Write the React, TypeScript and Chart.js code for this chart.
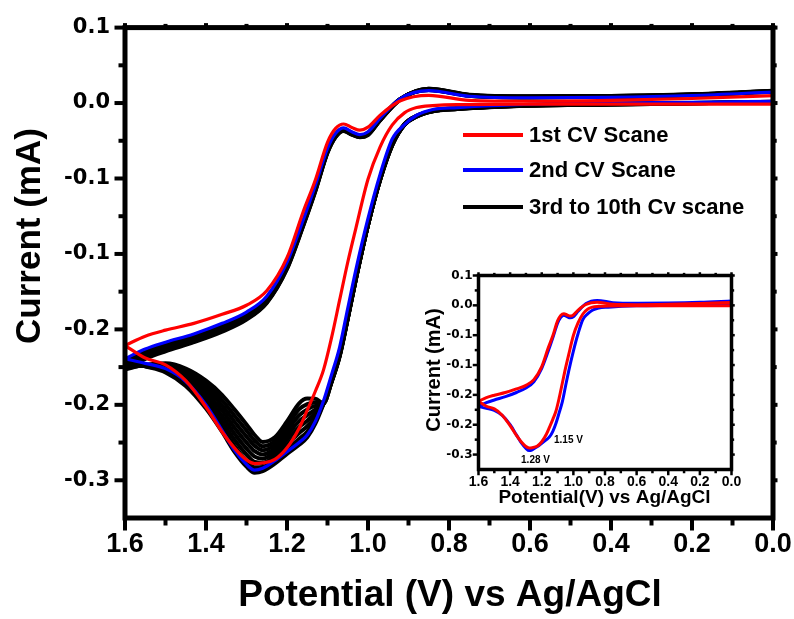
import React, { useEffect, useRef } from "react";
import { Chart, registerables } from "chart.js";

Chart.register(...registerables);

// ---------- data ----------
// potential grid (V) for the forward branch (0.0 -> 1.6 V)
const upPotential = [0, 0.2, 0.4, 0.6, 0.75, 0.85, 0.92, 0.97, 1.0, 1.02, 1.04, 1.06, 1.08, 1.1, 1.13, 1.16, 1.2, 1.25, 1.3, 1.36, 1.43, 1.5, 1.55, 1.6];
// potential grid (V) for the reverse branch (1.6 -> 0.0 V)
const downPotential = [1.6, 1.55, 1.5, 1.45, 1.4, 1.36, 1.33, 1.3, 1.28, 1.26, 1.23, 1.2, 1.17, 1.15, 1.13, 1.11, 1.09, 1.07, 1.05, 1.03, 1.0, 0.97, 0.94, 0.91, 0.88, 0.84, 0.78, 0.6, 0.4, 0.2, 0.0];

// currents (mA)
const scan1Up = [0.0049, 0.0030, 0.0018, 0.0012, 0.0018, 0.0051, 0.0015, -0.0080, -0.0160, -0.0180, -0.0162, -0.0139, -0.0168, -0.0260, -0.0510, -0.0720, -0.1025, -0.1244, -0.1340, -0.1400, -0.1460, -0.1505, -0.1545, -0.1607];
const scan1Down = [-0.1607, -0.1690, -0.1735, -0.1840, -0.2015, -0.2180, -0.2285, -0.2365, -0.2389, -0.2385, -0.2362, -0.2285, -0.2155, -0.2035, -0.1910, -0.1770, -0.1555, -0.1305, -0.1055, -0.0830, -0.0505, -0.0290, -0.0145, -0.0065, -0.0030, -0.0017, -0.0010, -0.0008, -0.0007, -0.0007, -0.0007];

const scan2Up = [0.0073, 0.0050, 0.0038, 0.0035, 0.0045, 0.0082, 0.0030, -0.0100, -0.0190, -0.0209, -0.0190, -0.0165, -0.0200, -0.0300, -0.0545, -0.0775, -0.1055, -0.1280, -0.1385, -0.1460, -0.1530, -0.1585, -0.1630, -0.1695];
const scan2Down = [-0.1695, -0.1725, -0.1760, -0.1845, -0.2000, -0.2170, -0.2300, -0.2395, -0.2433, -0.2420, -0.2370, -0.2310, -0.2250, -0.2200, -0.2110, -0.1975, -0.1800, -0.1617, -0.1360, -0.1105, -0.0765, -0.0471, -0.0237, -0.0143, -0.0081, -0.0043, -0.0030, -0.0008, 0.0000, 0.0005, 0.0011];

// scans 3 .. 10
const scans3to10Up = [
  [0.0075, 0.0052, 0.0040, 0.0037, 0.0048, 0.0086, 0.0028, -0.0105, -0.0198, -0.0216, -0.0198, -0.0172, -0.0208, -0.0310, -0.0558, -0.0790, -0.1070, -0.1295, -0.1400, -0.1475, -0.1545, -0.1600, -0.1650, -0.1710],
  [0.0076, 0.0053, 0.0041, 0.0038, 0.0049, 0.0087, 0.0028, -0.0106, -0.0200, -0.0218, -0.0200, -0.0174, -0.0210, -0.0313, -0.0562, -0.0794, -0.1074, -0.1299, -0.1405, -0.1481, -0.1551, -0.1606, -0.1656, -0.1718],
  [0.0077, 0.0054, 0.0042, 0.0039, 0.0050, 0.0088, 0.0027, -0.0108, -0.0202, -0.0219, -0.0201, -0.0176, -0.0213, -0.0316, -0.0566, -0.0797, -0.1079, -0.1304, -0.1410, -0.1486, -0.1556, -0.1613, -0.1663, -0.1726],
  [0.0078, 0.0055, 0.0043, 0.0040, 0.0051, 0.0090, 0.0027, -0.0109, -0.0204, -0.0221, -0.0203, -0.0178, -0.0215, -0.0319, -0.0570, -0.0801, -0.1083, -0.1308, -0.1415, -0.1492, -0.1562, -0.1619, -0.1669, -0.1734],
  [0.0078, 0.0055, 0.0044, 0.0041, 0.0052, 0.0091, 0.0026, -0.0110, -0.0206, -0.0222, -0.0205, -0.0179, -0.0218, -0.0321, -0.0573, -0.0804, -0.1087, -0.1312, -0.1420, -0.1498, -0.1568, -0.1626, -0.1676, -0.1741],
  [0.0079, 0.0056, 0.0045, 0.0042, 0.0053, 0.0092, 0.0026, -0.0112, -0.0208, -0.0224, -0.0207, -0.0181, -0.0220, -0.0324, -0.0577, -0.0808, -0.1091, -0.1316, -0.1425, -0.1504, -0.1574, -0.1632, -0.1682, -0.1749],
  [0.0080, 0.0057, 0.0046, 0.0044, 0.0054, 0.0094, 0.0025, -0.0113, -0.0210, -0.0225, -0.0208, -0.0183, -0.0223, -0.0327, -0.0581, -0.0811, -0.1096, -0.1321, -0.1430, -0.1509, -0.1579, -0.1639, -0.1689, -0.1757],
  [0.0081, 0.0058, 0.0047, 0.0045, 0.0055, 0.0095, 0.0025, -0.0115, -0.0212, -0.0227, -0.0210, -0.0185, -0.0225, -0.0330, -0.0585, -0.0815, -0.1100, -0.1325, -0.1435, -0.1515, -0.1585, -0.1645, -0.1695, -0.1765],
];
const scans3to10Down = [
  [-0.1710, -0.1745, -0.1785, -0.1875, -0.2025, -0.2180, -0.2310, -0.2410, -0.2450, -0.2440, -0.2390, -0.2325, -0.2265, -0.2215, -0.2125, -0.1995, -0.1840, -0.1660, -0.1420, -0.1160, -0.0805, -0.0500, -0.0270, -0.0140, -0.0085, -0.0050, -0.0035, -0.0012, -0.0005, 0.0000, 0.0008],
  [-0.1718, -0.1744, -0.1776, -0.1859, -0.1999, -0.2145, -0.2270, -0.2370, -0.2414, -0.2412, -0.2365, -0.2294, -0.2226, -0.2178, -0.2101, -0.1994, -0.1841, -0.1663, -0.1421, -0.1161, -0.0806, -0.0501, -0.0271, -0.0141, -0.0086, -0.0051, -0.0036, -0.0013, -0.0006, 0.0000, 0.0008],
  [-0.1726, -0.1742, -0.1768, -0.1842, -0.1972, -0.2110, -0.2230, -0.2330, -0.2379, -0.2385, -0.2340, -0.2264, -0.2186, -0.2142, -0.2078, -0.1994, -0.1843, -0.1666, -0.1423, -0.1163, -0.0806, -0.0503, -0.0273, -0.0141, -0.0086, -0.0051, -0.0036, -0.0014, -0.0006, -0.0001, 0.0007],
  [-0.1734, -0.1741, -0.1759, -0.1826, -0.1946, -0.2075, -0.2190, -0.2290, -0.2343, -0.2357, -0.2315, -0.2233, -0.2147, -0.2105, -0.2054, -0.1993, -0.1844, -0.1669, -0.1424, -0.1164, -0.0807, -0.0504, -0.0274, -0.0142, -0.0087, -0.0052, -0.0037, -0.0015, -0.0007, -0.0001, 0.0007],
  [-0.1741, -0.1740, -0.1751, -0.1809, -0.1919, -0.2040, -0.2150, -0.2250, -0.2307, -0.2329, -0.2290, -0.2202, -0.2108, -0.2068, -0.2031, -0.1992, -0.1846, -0.1671, -0.1426, -0.1166, -0.0808, -0.0506, -0.0276, -0.0143, -0.0088, -0.0053, -0.0038, -0.0015, -0.0008, -0.0001, 0.0007],
  [-0.1749, -0.1738, -0.1742, -0.1793, -0.1893, -0.2005, -0.2110, -0.2210, -0.2271, -0.2301, -0.2265, -0.2171, -0.2069, -0.2031, -0.2007, -0.1992, -0.1847, -0.1674, -0.1427, -0.1167, -0.0809, -0.0507, -0.0277, -0.0144, -0.0089, -0.0054, -0.0039, -0.0016, -0.0009, -0.0001, 0.0006],
  [-0.1757, -0.1737, -0.1734, -0.1776, -0.1866, -0.1970, -0.2070, -0.2170, -0.2236, -0.2274, -0.2240, -0.2141, -0.2029, -0.1995, -0.1984, -0.1991, -0.1849, -0.1677, -0.1429, -0.1169, -0.0809, -0.0509, -0.0279, -0.0144, -0.0089, -0.0054, -0.0039, -0.0017, -0.0009, -0.0002, 0.0006],
  [-0.1765, -0.1735, -0.1725, -0.1760, -0.1840, -0.1935, -0.2030, -0.2130, -0.2200, -0.2246, -0.2215, -0.2110, -0.1990, -0.1958, -0.1960, -0.1990, -0.1850, -0.1680, -0.1430, -0.1170, -0.0810, -0.0510, -0.0280, -0.0145, -0.0090, -0.0055, -0.0040, -0.0018, -0.0010, -0.0002, 0.0005],
];

const legendLabels = ["1st CV Scane", "2nd CV Scane", "3rd to 10th Cv scane"];
const seriesColors = ["#ff0000", "#0000ff", "#000000"];

// axes
const xTickValues = [0, 0.2, 0.4, 0.6, 0.8, 1.0, 1.2, 1.4, 1.6];
const xMinorValues = [0.1, 0.3, 0.5, 0.7, 0.9, 1.1, 1.3, 1.5];
const yTickValues = [0.05, 0, -0.05, -0.1, -0.15, -0.2, -0.25];
const yTickLabels = ["0.1", "0.0", "-0.1", "-0.1", "-0.2", "-0.2", "-0.3"];
const yMinorValues = [0.025, -0.025, -0.075, -0.125, -0.175, -0.225];
const xRange = [0, 1.6];
const yRange = [-0.275, 0.05];

const xTitle = "Potential (V) vs Ag/AgCl";
const yTitle = "Current (mA)";
const insetXTitle = "Potential(V) vs Ag/AgCl";
const insetYTitle = "Current (mA)";
const insetNoteLabels = ["1.15 V", "1.28 V"];
const insetNoteX = [1.1225, 1.331];
const insetNoteY = [-0.2306, -0.2641];

// ---------- helpers ----------
const SANS = "'Liberation Sans', Arial, Helvetica, sans-serif";
const DEJAVU = "'DejaVu Sans', 'Liberation Sans', sans-serif";

function branch(xs: number[], ys: number[], color: string, width: number) {
  return {
    data: xs.map((x, i) => ({ x, y: ys[i] })),
    borderColor: color,
    backgroundColor: color,
    borderWidth: width,
    pointRadius: 0,
    fill: false,
    cubicInterpolationMode: "monotone" as const,
  };
}

function buildDatasets(width: number, blackWidth: number, includeBlack: boolean) {
  const ds: any[] = [];
  ds.push(branch(upPotential, scan1Up, seriesColors[0], width));
  ds.push(branch(downPotential, scan1Down, seriesColors[0], width));
  ds.push(branch(upPotential, scan2Up, seriesColors[1], width));
  ds.push(branch(downPotential, scan2Down, seriesColors[1], width));
  if (includeBlack) {
    for (let k = 0; k < scans3to10Up.length; k++) {
      ds.push(branch(upPotential, scans3to10Up[k], seriesColors[2], blackWidth));
      ds.push(branch(downPotential, scans3to10Down[k], seriesColors[2], blackWidth));
    }
  }
  return ds;
}

function yLabel(v: number) {
  const i = yTickValues.findIndex((t) => Math.abs(t - v) < 1e-9);
  return i >= 0 ? yTickLabels[i] : "";
}

type FrameCfg = {
  frameWidth: number;
  tickWidth: number;
  majorLeft: number;
  minorLeft: number;
  majorBottom: number;
  minorBottom: number;
  side: number;
};

function framePlugin(cfg: FrameCfg) {
  return {
    id: "frame",
    afterDraw(chart: any) {
      const { ctx, chartArea: a } = chart;
      const x = chart.scales.x;
      const y = chart.scales.y;
      ctx.save();
      ctx.strokeStyle = "#000";
      ctx.lineCap = "butt";
      ctx.lineWidth = cfg.tickWidth;
      const hw = cfg.frameWidth / 2;
      const vTick = (v: number, len: number, side: number) => {
        const py = y.getPixelForValue(v);
        ctx.beginPath();
        ctx.moveTo(a.left, py);
        ctx.lineTo(a.left - hw - len, py);
        ctx.stroke();
        ctx.beginPath();
        ctx.moveTo(a.right, py);
        ctx.lineTo(a.right + hw + side, py);
        ctx.stroke();
      };
      const hTick = (v: number, len: number, side: number) => {
        const px = x.getPixelForValue(v);
        ctx.beginPath();
        ctx.moveTo(px, a.bottom);
        ctx.lineTo(px, a.bottom + hw + len);
        ctx.stroke();
        ctx.beginPath();
        ctx.moveTo(px, a.top);
        ctx.lineTo(px, a.top - hw - side);
        ctx.stroke();
      };
      yTickValues.forEach((v) => vTick(v, cfg.majorLeft, cfg.side));
      yMinorValues.forEach((v) => vTick(v, cfg.minorLeft, cfg.side * 0.6));
      xTickValues.forEach((v) => hTick(v, cfg.majorBottom, cfg.side));
      xMinorValues.forEach((v) => hTick(v, cfg.minorBottom, cfg.side * 0.6));
      ctx.lineWidth = cfg.frameWidth;
      ctx.lineJoin = "miter";
      ctx.strokeRect(a.left, a.top, a.right - a.left, a.bottom - a.top);
      ctx.restore();
    },
  };
}

const mainDecor = {
  id: "mainDecor",
  afterDraw(chart: any) {
    const { ctx, chartArea: a } = chart;
    ctx.save();
    ctx.fillStyle = "#000";
    // x title
    ctx.font = `bold 37px ${SANS}`;
    ctx.textAlign = "center";
    ctx.textBaseline = "alphabetic";
    ctx.fillText(xTitle, (a.left + a.right) / 2 + 1, 606);
    // y title
    ctx.save();
    ctx.translate(40, 236);
    ctx.rotate(-Math.PI / 2);
    ctx.font = `bold 35px ${SANS}`;
    ctx.fillText(yTitle, 0, 0);
    ctx.restore();
    // legend
    const rows = [135, 170, 207];
    ctx.font = `bold 22px ${SANS}`;
    ctx.textAlign = "left";
    ctx.textBaseline = "middle";
    legendLabels.forEach((lab, i) => {
      ctx.strokeStyle = seriesColors[i];
      ctx.lineWidth = 4;
      ctx.beginPath();
      ctx.moveTo(463, rows[i]);
      ctx.lineTo(523, rows[i]);
      ctx.stroke();
      ctx.fillStyle = "#000";
      ctx.fillText(lab, 529, rows[i] + 1);
    });
    ctx.restore();
  },
};

const insetDecor = {
  id: "insetDecor",
  afterDraw(chart: any) {
    const { ctx, chartArea: a } = chart;
    const xs = chart.scales.x;
    const ys = chart.scales.y;
    ctx.save();
    ctx.fillStyle = "#000";
    ctx.font = `bold 19px ${SANS}`;
    ctx.textAlign = "center";
    ctx.textBaseline = "alphabetic";
    ctx.fillText(insetXTitle, (a.left + a.right) / 2 - 0.5, 241);
    ctx.save();
    ctx.translate(25, 108);
    ctx.rotate(-Math.PI / 2);
    ctx.font = `bold 20px ${SANS}`;
    ctx.fillText(insetYTitle, 0, 0);
    ctx.restore();
    ctx.font = `bold 10px ${SANS}`;
    ctx.textAlign = "left";
    insetNoteLabels.forEach((lab, i) => {
      ctx.fillText(lab, xs.getPixelForValue(insetNoteX[i]), ys.getPixelForValue(insetNoteY[i]));
    });
    ctx.restore();
  },
};

function makeOptions(o: {
  pad: { top: number; right: number };
  yWidth: number;
  xHeight: number;
  xFont: any;
  yFont: any;
  xPad: number;
  yPad: number;
}) {
  return {
    responsive: false,
    maintainAspectRatio: false,
    animation: false as const,
    events: [] as any[],
    layout: { padding: { top: o.pad.top, right: o.pad.right, left: 0, bottom: 0 } },
    plugins: { legend: { display: false }, tooltip: { enabled: false }, title: { display: false } },
    elements: { point: { radius: 0 } },
    scales: {
      x: {
        type: "linear" as const,
        reverse: true,
        min: xRange[0],
        max: xRange[1],
        afterBuildTicks: (s: any) => {
          s.ticks = xTickValues.map((v) => ({ value: v }));
        },
        afterFit: (s: any) => {
          s.height = o.xHeight;
        },
        grid: { display: false, drawTicks: false },
        border: { display: false },
        ticks: {
          autoSkip: false,
          maxRotation: 0,
          minRotation: 0,
          padding: o.xPad,
          color: "#000",
          font: o.xFont,
          callback: (v: any) => Number(v).toFixed(1),
        },
      },
      y: {
        type: "linear" as const,
        min: yRange[0],
        max: yRange[1],
        afterBuildTicks: (s: any) => {
          s.ticks = yTickValues.map((v) => ({ value: v }));
        },
        afterFit: (s: any) => {
          s.width = o.yWidth;
        },
        grid: { display: false, drawTicks: false },
        border: { display: false },
        ticks: {
          autoSkip: false,
          padding: o.yPad,
          color: "#000",
          font: o.yFont,
          callback: (v: any) => yLabel(Number(v)),
        },
      },
    },
  };
}

export default function App() {
  const mainRef = useRef<HTMLCanvasElement | null>(null);
  const insetRef = useRef<HTMLCanvasElement | null>(null);

  useEffect(() => {
    if (!mainRef.current || !insetRef.current) return;
    const main = new Chart(mainRef.current, {
      type: "line",
      data: { datasets: buildDatasets(3.2, 4, true) },
      options: makeOptions({
        pad: { top: 26, right: 21 },
        yWidth: 125,
        xHeight: 101,
        xFont: { family: SANS, size: 27, weight: "bold" },
        yFont: { family: DEJAVU, size: 21, weight: "bold" },
        xPad: 10,
        yPad: 15,
      }) as any,
      plugins: [
        framePlugin({ frameWidth: 5, tickWidth: 4, majorLeft: 8, minorLeft: 4, majorBottom: 10, minorBottom: 5, side: 2 }),
        mainDecor,
      ],
    });
    const inset = new Chart(insetRef.current, {
      type: "line",
      data: { datasets: buildDatasets(3, 3, false) },
      options: makeOptions({
        pad: { top: 13.5, right: 13.5 },
        yWidth: 63.5,
        xHeight: 42.5,
        xFont: { family: SANS, size: 14, weight: "bold" },
        yFont: { family: DEJAVU, size: 12, weight: "bold" },
        xPad: 4,
        yPad: 6,
      }) as any,
      plugins: [
        framePlugin({ frameWidth: 3.5, tickWidth: 2.5, majorLeft: 4, minorLeft: 2, majorBottom: 4, minorBottom: 2, side: 1.5 }),
        insetDecor,
      ],
    });
    return () => {
      main.destroy();
      inset.destroy();
    };
  }, []);

  return (
    <div style={{ position: "fixed", left: 0, top: 0, width: 794, height: 619, background: "#fff" }}>
      <canvas ref={mainRef} width={794} height={619} style={{ position: "absolute", left: 0, top: 0, width: 794, height: 619 }} />
      <canvas ref={insetRef} width={330} height={250} style={{ position: "absolute", left: 415, top: 262, width: 330, height: 250 }} />
    </div>
  );
}
